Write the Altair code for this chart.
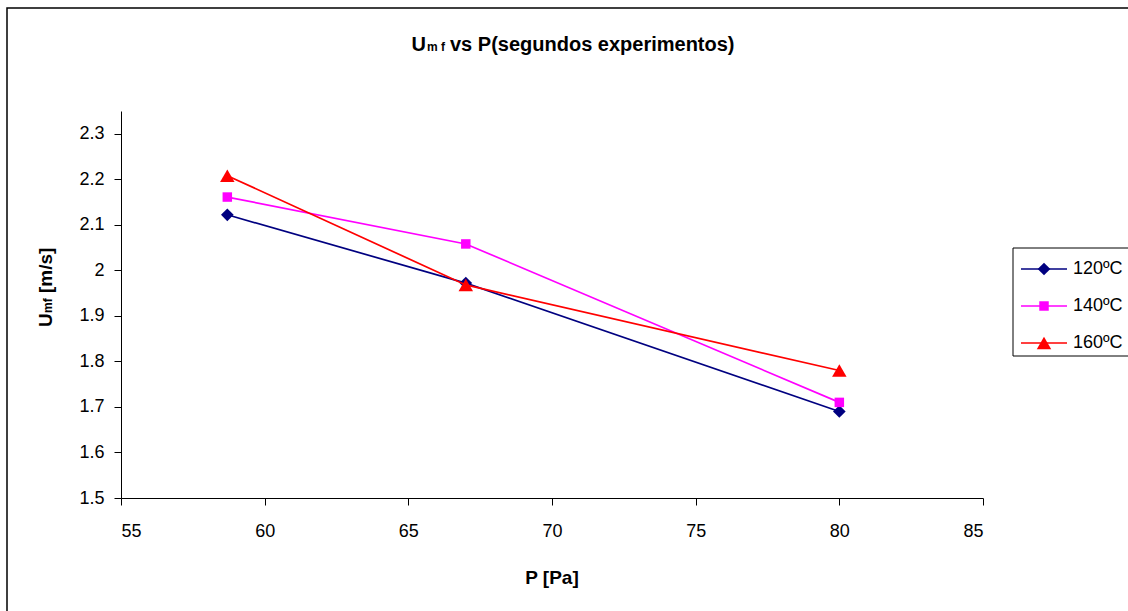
import altair as alt
import pandas as pd

# ---- data ----
pressure = [58.7, 67, 80]
u_120 = [2.122, 1.972, 1.690]
u_140 = [2.161, 2.058, 1.710]
u_160 = [2.208, 1.968, 1.780]
series_names = ["120ºC", "140ºC", "160ºC"]
series_colors = ["#000080", "#FF00FF", "#FF0000"]
series_shapes = ["diamond", "square", "triangle-up"]
series_sizes = [160, 90, 210]
x_ticks = [55, 60, 65, 70, 75, 80, 85]
y_ticks = [1.5, 1.6, 1.7, 1.8, 1.9, 2.0, 2.1, 2.2, 2.3]

FONT = "Liberation Sans"
W, H = 862, 387

rows = []
for name, vals in zip(series_names, [u_120, u_140, u_160]):
    for p, u in zip(pressure, vals):
        rows.append({"serie": name, "P": p, "U": u})
df = pd.DataFrame(rows)

x_enc = alt.X(
    "P:Q",
    scale=alt.Scale(domain=[55, 85], nice=False, zero=False),
    axis=alt.Axis(values=x_ticks, title=None, grid=False, domainColor="black",
                  tickColor="black", tickSize=7, labelFontSize=18, labelFont=FONT,
                  labelColor="black", labelPadding=17, format="d"),
)
y_enc = alt.Y(
    "U:Q",
    scale=alt.Scale(domain=[1.5, 2.35], nice=False, zero=False),
    axis=alt.Axis(values=y_ticks, title=None, grid=False, domainColor="black",
                  tickColor="black", tickSize=7, labelFontSize=18, labelFont=FONT,
                  labelColor="black", labelPadding=10, format="~g"),
)

series_layers = []
for i, (name, col, shp, sz) in enumerate(zip(series_names, series_colors, series_shapes, series_sizes)):
    b = alt.Chart(df).transform_filter(alt.datum.serie == name)
    if i == 0:
        ln = b.mark_line(strokeWidth=1.7, color=col).encode(x=x_enc, y=y_enc)
    else:
        ln = b.mark_line(strokeWidth=1.7, color=col).encode(x="P:Q", y="U:Q")
    pt = b.mark_point(filled=True, opacity=1, shape=shp, size=sz, color=col).encode(x="P:Q", y="U:Q")
    series_layers += [ln, pt]

one = pd.DataFrame({"k": [0]})

# outer frame
frame = alt.Chart(one).mark_rect(fillOpacity=0, stroke="black", strokeWidth=1.5).encode(
    x=alt.value(-114), x2=alt.value(1030), y=alt.value(-103), y2=alt.value(530))

# title with smaller "mf"
t_u = alt.Chart(one).mark_text(text="U", font=FONT, fontSize=20, fontWeight="bold",
                              align="right", baseline="alphabetic", color="black").encode(
    x=alt.value(305), y=alt.value(-60))
t_mf = alt.Chart(one).mark_text(text="m f", font=FONT, fontSize=12, fontWeight="bold",
                               align="left", baseline="alphabetic", color="black").encode(
    x=alt.value(306), y=alt.value(-60))
t_main = alt.Chart(one).mark_text(text="vs P(segundos experimentos)", font=FONT, fontSize=20,
                                 fontWeight="bold", align="left", baseline="alphabetic",
                                 color="black").encode(x=alt.value(329), y=alt.value(-60))

# x axis title
xt = alt.Chart(one).mark_text(text="P [Pa]", font=FONT, fontSize=19, fontWeight="bold",
                             align="center", baseline="alphabetic", color="black").encode(
    x=alt.value(431), y=alt.value(473))

# y axis title (rotated), with smaller "mf"
yt_u = alt.Chart(one).mark_text(text="U", font=FONT, fontSize=19, fontWeight="bold", angle=270,
                               align="left", baseline="alphabetic", color="black").encode(
    x=alt.value(-69), y=alt.value(216))
yt_mf = alt.Chart(one).mark_text(text="mf", font=FONT, fontSize=12, fontWeight="bold", angle=270,
                                align="left", baseline="alphabetic", color="black").encode(
    x=alt.value(-69), y=alt.value(202))
yt_main = alt.Chart(one).mark_text(text="[m/s]", font=FONT, fontSize=19, fontWeight="bold", angle=270,
                                  align="left", baseline="alphabetic", color="black").encode(
    x=alt.value(-69), y=alt.value(182))

# legend
legend_box = alt.Chart(one).mark_rect(fill="white", stroke="black", strokeWidth=1).encode(
    x=alt.value(892), x2=alt.value(1030), y=alt.value(137), y2=alt.value(245))
legend_layers = [legend_box]
row_y = [158, 195, 232]
for name, col, shp, sz, ry in zip(series_names, series_colors, series_shapes, series_sizes, row_y):
    d = pd.DataFrame({"serie": [name]})
    legend_layers.append(alt.Chart(d).mark_rule(color=col, strokeWidth=1.7).encode(
        x=alt.value(900), x2=alt.value(946), y=alt.value(ry)))
    legend_layers.append(alt.Chart(d).mark_point(filled=True, opacity=1, size=sz, shape=shp, color=col).encode(
        x=alt.value(923), y=alt.value(ry)))
    legend_layers.append(alt.Chart(d).mark_text(font=FONT, fontSize=18, align="left", baseline="middle",
                                               color="black").encode(
        x=alt.value(952), y=alt.value(ry), text="serie:N"))

chart = alt.layer(
    frame, *series_layers, t_u, t_mf, t_main, xt, yt_u, yt_mf, yt_main, *legend_layers
).properties(
    width=W, height=H,
    autosize=alt.AutoSizeParams(type="none"),
    padding={"left": 121, "top": 111, "right": 145, "bottom": 113},
    background="white",
).configure_view(strokeWidth=0)

chart.save("out.html", embed_options={"renderer": "svg", "actions": False})
